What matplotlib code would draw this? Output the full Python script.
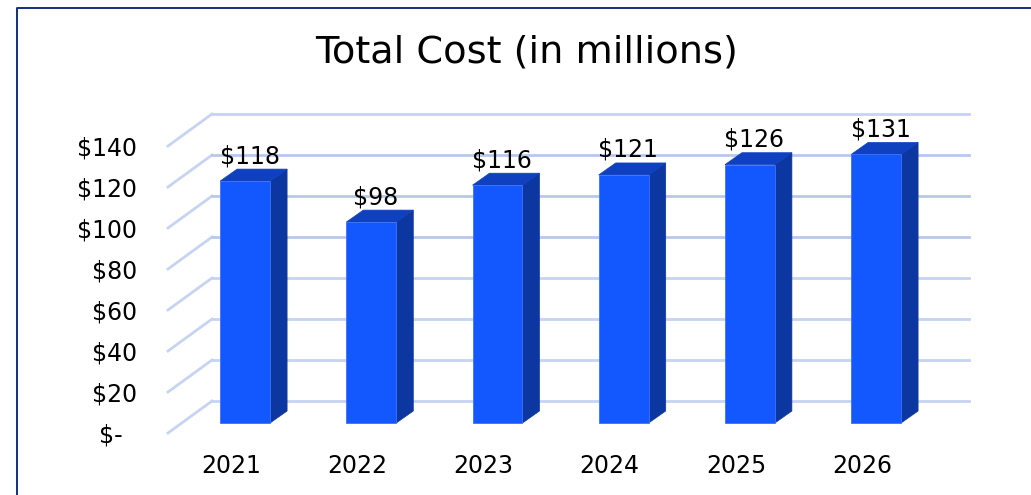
import matplotlib
matplotlib.use('Agg')
import matplotlib.pyplot as plt
from matplotlib.patches import Polygon
from matplotlib.lines import Line2D
from matplotlib.transforms import Affine2D, IdentityTransform

years = ['2021', '2022', '2023', '2024', '2025', '2026']
costs = [118, 98, 116, 121, 126, 131]
ticks = [0, 20, 40, 60, 80, 100, 120, 140]
tick_labels = ['$-  ', '$20', '$40', '$60', '$80', '$100', '$120', '$140']

W, H = 1031, 495
plt.rcParams['font.family'] = ['DejaVu Sans']
fig = plt.figure(figsize=(W / 100, H / 100), dpi=100)
ax = fig.add_axes([168 / W, (H - 433) / H, 757.2 / W, 287 / H])
ax.set_xlim(-0.5, 5.5)
ax.set_ylim(0, 140)
for s in ax.spines.values():
    s.set_visible(False)

# depth offsets, in pixels
wall = (44, 32)
bar_shift = (14, 10)
bar_depth = (17, 12)
bar_w = 0.396
px = IdentityTransform()


def to_px(x, y):
    return ax.transData.transform((x, y))


# outer frame
fig.add_artist(Line2D([16.5 / W, 16.5 / W, 1], [0, (H - 7.5) / H, (H - 7.5) / H],
                      color='#14307c', lw=1.4))

# gridlines, floor to back wall
for t in ticks:
    p0 = to_px(-0.5, t)
    p1 = p0 + wall
    p2 = to_px(5.5, t) + wall
    col = '#b9c7ea' if 80 <= t <= 120 else '#c6d4f2'
    ax.add_line(Line2D([p0[0], p1[0]], [p0[1], p1[1]], transform=px,
                       color='#c6d4f2', lw=2, clip_on=False, zorder=1))
    ax.add_line(Line2D([p1[0], p2[0]], [p1[1], p2[1]], transform=px,
                       color=col, lw=2, clip_on=False, zorder=1))

# front faces
front = Affine2D().translate(*bar_shift)
ax.bar(range(len(costs)), costs, width=bar_w, color='#1257ff', edgecolor='#3f72f5', lw=0.6,
       transform=ax.transData + front, clip_on=False, zorder=3)

for i, v in enumerate(costs):
    bl = to_px(i - bar_w / 2, 0) + bar_shift
    br = to_px(i + bar_w / 2, 0) + bar_shift
    tl = to_px(i - bar_w / 2, v) + bar_shift
    tr = to_px(i + bar_w / 2, v) + bar_shift
    ax.add_patch(Polygon([br, br + bar_depth, tr + bar_depth, tr], transform=px,
                         facecolor='#0c37a0', edgecolor='#0c37a0', lw=0.5, clip_on=False, zorder=2.5))
    ax.add_patch(Polygon([tl, tr, tr + bar_depth, tl + bar_depth], transform=px,
                         facecolor='#0e40c0', edgecolor='#0e40c0', lw=0.5, clip_on=False, zorder=2.5))
    lab = to_px(i, v) + (18.5, 35)
    ax.text(lab[0], lab[1], '$%d' % v, transform=px, ha='center', va='center',
            fontsize=17, color='black', zorder=5)

ax.set_xticks(range(len(years)))
ax.set_xticklabels(years, fontsize=17)
ax.tick_params(axis='x', length=0, pad=15)
ax.set_yticks(ticks)
ax.set_yticklabels(tick_labels, fontsize=17, ha='right')
ax.tick_params(axis='y', length=0, pad=22)

fig.text(526.5 / W, (H - 52) / H, 'Total Cost (in millions)', ha='center', va='center',
         fontsize=27.5, color='black')

fig.savefig('out.png', dpi=100)
